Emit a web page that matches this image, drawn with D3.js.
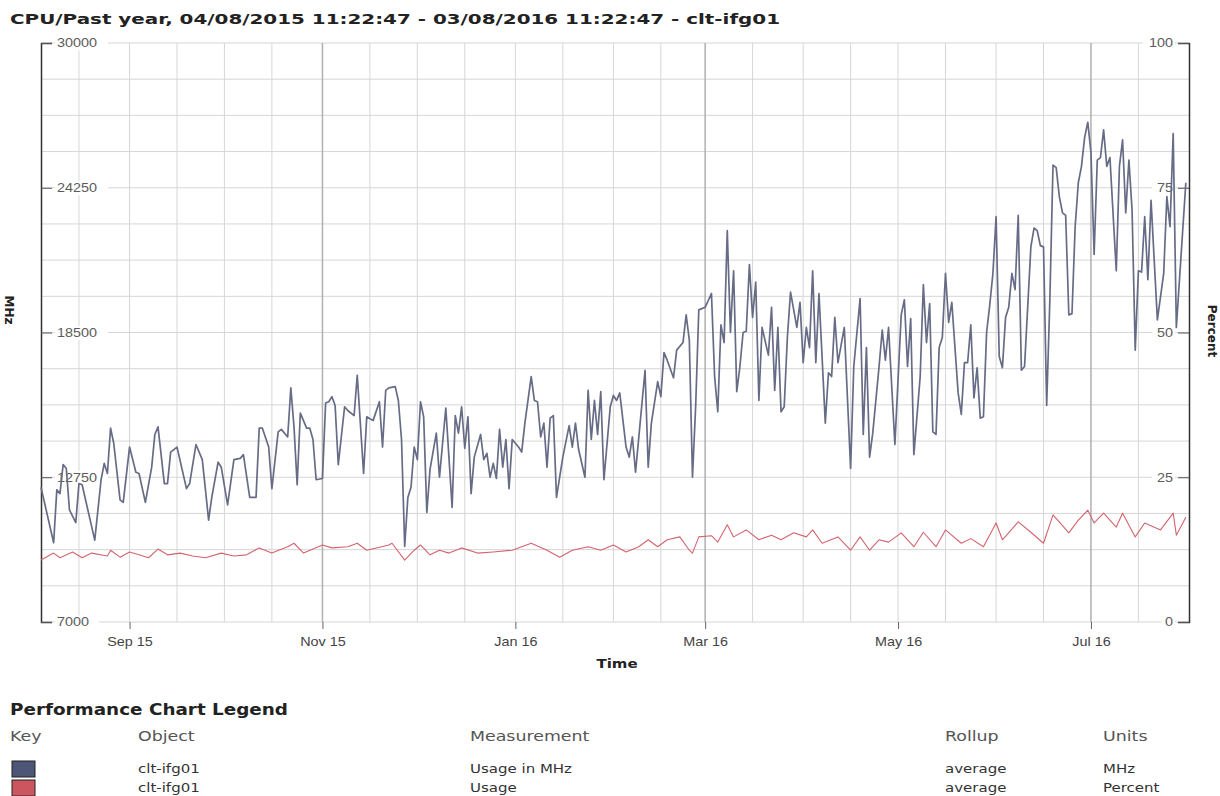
<!DOCTYPE html>
<html>
<head>
<meta charset="utf-8">
<script src="https://cdn.jsdelivr.net/npm/d3@7"></script>
<style>
  body { margin: 0; background: #fff; }
  svg { display: block; font-family: Verdana, "DejaVu Sans", sans-serif; }
</style>
</head>
<body>
<svg id="chart" width="1220" height="796"></svg>
<script>
// ---- data ----
var startDate = new Date(2015, 7, 4);   // 04/08/2015
var endDate = new Date(2016, 7, 1);

var monthTicks = [new Date(2015, 8, 1), new Date(2015, 10, 1), new Date(2016, 0, 1),
                  new Date(2016, 2, 1), new Date(2016, 4, 1), new Date(2016, 6, 1)];
var monthLabels = ["Sep 15", "Nov 15", "Jan 16", "Mar 16", "May 16", "Jul 16"];
var mhzTicks = [7000, 12750, 18500, 24250, 30000];
var pctTicks = [0, 25, 50, 75, 100];

// Usage in MHz: day offset from start, value
var mhzDays = [0,4,5,6,7,8,9,11,12,13,17,19,20,21,22,23,25,26,28,30,31,33,35,36,37,39,40,41,42,43,46,47,49,51,53,54,56,57,59,61,63,64,66,68,69,70,72,73,75,76,78,79,80,81,82,84,85,86,87,89,90,91,92,93,94,96,97,99,100,102,103,105,107,108,109,110,112,113,114,115,116,117,118,119,120,121,122,123,125,126,128,130,131,132,133,134,135,136,137,139,140,141,142,143,144,145,146,147,148,149,151,152,153,155,156,157,158,159,160,161,162,163,165,167,168,169,170,172,173,174,175,176,177,178,180,181,182,183,185,186,187,188,191,192,193,195,196,197,198,200,201,203,204,205,206,207,208,210,212,213,214,215,216,217,218,219,220,221,222,223,224,225,226,227,228,230,231,232,233,234,235,236,237,239,240,241,242,243,244,245,246,248,249,250,251,252,254,256,257,259,260,261,262,263,265,266,267,268,270,272,273,274,275,276,278,279,280,281,282,283,284,285,286,287,288,290,291,292,293,294,295,296,297,298,299,300,301,302,303,304,305,306,307,308,309,310,311,313,314,315,316,317,318,319,320,321,322,323,324,325,326,327,328,329,330,331,332,333,334,335,336,337,338,340,341,342,343,344,345,346,347,348,349,350,351,353,355,356,357,358,359,362];
var mhzValues = [12350,10150,12250,12100,13250,13100,11450,10950,12500,12450,10250,12650,13300,12900,14700,14100,11850,11750,13950,12950,12900,11750,13150,14450,14750,12500,12500,13750,13850,13950,12300,12500,14050,13450,11050,11950,13350,13150,11650,13450,13500,13650,11950,11950,14700,14700,13950,12300,14550,14650,14350,16300,14750,12450,15300,14700,14700,14250,12650,12700,15700,15750,15950,15600,13250,15550,15400,15200,16800,12900,15150,15000,15750,13950,16200,16300,16350,15800,14250,10000,11950,12350,13950,13450,15750,15150,11350,13050,14500,12750,15500,11550,15200,14500,15550,13900,15150,12100,13550,14450,13450,13700,12750,13300,12700,14650,13150,14250,12300,14250,13950,13750,14900,16750,15800,15750,14350,14900,13150,15100,15200,11950,13550,14800,13950,14900,13850,12750,16200,14250,15800,14450,16150,12650,15550,16000,15800,16100,13950,13550,14350,12950,17000,13150,14900,16550,15950,17700,17400,16700,17800,18100,19200,18200,12750,15550,19400,19500,20050,16750,15350,18800,18100,22550,18500,20950,16150,17150,18500,18550,21200,19100,20500,15800,18700,17600,19500,16200,18700,15350,15550,18300,20100,18700,19700,17300,18700,17900,20950,17300,20050,14900,16900,16750,19100,17300,18700,13100,17150,19850,14450,17900,13550,14500,17150,18600,17400,18700,14050,19200,19800,17150,19050,13650,16750,20400,18100,19650,14550,14450,17900,18300,20850,18900,19700,16100,15250,17300,17300,18800,15900,17100,15100,15150,18500,19600,20850,23100,17550,17100,19100,19500,20850,20200,23150,17000,17150,21900,22650,22550,21950,21900,15600,19800,25150,25050,23900,23250,23150,19200,19250,22700,24450,25100,26250,26850,25650,21600,25350,25450,26550,25100,25450,20950,25100,26150,23250,25350,23350,17800,20950,20900,23100,20600,23750,19000,20850,23900,22700,26400,18700,24450];

// Usage in Percent
var pctDays = [0,4,6,10,13,16,21,22,25,28,31,34,37,40,44,48,52,57,61,65,69,73,78,80,83,89,92,97,100,103,110,111,115,118,120,123,126,129,133,138,143,149,155,160,164,168,173,177,181,185,189,192,195,198,202,205,206,208,212,214,217,219,223,227,231,234,238,242,244,247,252,256,259,262,265,268,272,276,279,283,286,291,294,298,302,304,309,313,317,320,325,328,331,333,336,340,342,346,349,354,358,359,362];
var pctValues = [10.7,11.9,11.1,12.1,11.1,11.9,11.4,12.4,11.2,12.1,11.6,11.1,12.6,11.6,11.9,11.4,11.1,11.9,11.4,11.6,12.8,11.9,13.0,13.6,11.9,13.3,12.8,13.0,13.6,12.4,13.3,13.6,10.7,12.4,13.3,11.6,12.4,11.9,12.8,11.9,12.1,12.4,13.6,12.4,11.2,12.4,13.0,12.4,13.3,12.1,13.0,14.2,13.0,14.2,14.7,12.4,11.9,14.7,14.9,13.8,16.8,14.7,15.9,14.2,15.0,14.2,15.4,14.7,15.9,13.6,14.7,12.4,14.7,12.4,14.2,13.8,15.4,13.0,15.5,13.0,15.9,13.6,14.4,13.0,17.1,14.2,17.3,15.5,13.6,18.5,15.4,17.6,19.3,17.1,18.8,16.4,18.8,14.7,17.1,15.9,18.8,15.0,18.1];

var legendHeader = ["Key", "Object", "Measurement", "Rollup", "Units"];
var legendObjects = ["clt-ifg01", "clt-ifg01"];
var legendMeasures = ["Usage in MHz", "Usage"];
var legendRollups = ["average", "average"];
var legendUnits = ["MHz", "Percent"];
var legendColors = ["#4d5676", "#cc5660"];

// ---- layout ----
var plotLeft = 41, plotRight = 1189, plotTop = 43, plotBottom = 622;
var K = 1.2;   // horizontal stretch of the screenshot's text

var svg = d3.select("#chart");

var x = d3.scaleTime().domain([startDate, endDate]).range([plotLeft, plotRight]);
var yL = d3.scaleLinear().domain([7000, 30000]).range([plotBottom, plotTop]);
var yR = d3.scaleLinear().domain([0, 100]).range([plotBottom, plotTop]);

function stretch(sel) {
    sel.each(function() {
        var t = d3.select(this);
        var tx = +t.attr("x") || 0;
        t.attr("x", 0).attr("transform", "translate(" + tx + ",0) scale(" + K + ",1)");
    });
}

function label(txt, px, py, size, weight, fill, anchor) {
    return svg.append("text")
        .attr("transform", "translate(" + px + "," + py + ") scale(" + K + ",1)")
        .attr("font-size", size)
        .attr("font-weight", weight || "normal")
        .attr("fill", fill || "#333")
        .attr("text-anchor", anchor || "start")
        .text(txt);
}

// grid
var grid = svg.append("g");
var hLines = d3.range(17).map(function(i) { return 7000 + i * 1437.5; });
grid.selectAll(".h").data(hLines).enter().append("line")
    .attr("x1", plotLeft).attr("x2", plotRight)
    .attr("y1", function(d) { return yL(d); }).attr("y2", function(d) { return yL(d); })
    .attr("stroke", "#d6d6d6").attr("stroke-width", 1);

var vDates = d3.timeDay.range(startDate, endDate).filter(function(d) {
    return d.getDate() === 1 || d.getDate() === 16;
});
function isMajor(d) { return d.getDate() === 1 && d.getMonth() % 4 === 2; }
grid.selectAll(".v").data(vDates).enter().append("line")
    .attr("x1", function(d) { return x(d); }).attr("x2", function(d) { return x(d); })
    .attr("y1", plotTop).attr("y2", plotBottom)
    .attr("stroke", function(d) { return isMajor(d) ? "#b0b0b0" : "#d6d6d6"; })
    .attr("stroke-width", function(d) { return isMajor(d) ? 1.5 : 1; });

// x axis
var xAxis = svg.append("g")
    .attr("transform", "translate(0," + plotBottom + ")")
    .call(d3.axisBottom(x).tickValues(monthTicks)
        .tickFormat(function(d, i) { return monthLabels[i]; })
        .tickSize(7).tickPadding(8));
xAxis.select(".domain").remove();
xAxis.selectAll(".tick line").attr("stroke", "#666");
xAxis.selectAll("text").attr("font-size", 12).attr("fill", "#444").attr("font-family", null).call(stretch);

// left axis (labels inside the plot)
var lAxis = svg.append("g")
    .attr("transform", "translate(" + plotLeft + ",0)")
    .call(d3.axisRight(yL).tickValues(mhzTicks).tickFormat(d3.format("d")).tickSize(11).tickPadding(5));
lAxis.select(".domain").attr("stroke", "#333").attr("stroke-width", 1.5);
lAxis.selectAll(".tick line").attr("stroke", "#555");
lAxis.selectAll(".tick").insert("rect", "text")
    .attr("x", 14).attr("y", -7).attr("height", 14).attr("fill", "#fff")
    .attr("width", function(d) { return String(d).length * 9.4 + 6; });
lAxis.selectAll("text").attr("font-size", 12).attr("fill", "#5c5c5c").attr("font-family", null).call(stretch);

// right axis
var rAxis = svg.append("g")
    .attr("transform", "translate(" + plotRight + ",0)")
    .call(d3.axisLeft(yR).tickValues(pctTicks).tickSize(11).tickPadding(5));
rAxis.select(".domain").attr("stroke", "#333").attr("stroke-width", 1.5);
rAxis.selectAll(".tick line").attr("stroke", "#555");
rAxis.selectAll(".tick").insert("rect", "text")
    .attr("y", -7).attr("height", 14).attr("fill", "#fff")
    .attr("x", function(d) { return -14 - String(d).length * 9.4 - 4; })
    .attr("width", function(d) { return String(d).length * 9.4 + 4; });
rAxis.selectAll("text").attr("font-size", 12).attr("fill", "#5c5c5c").attr("font-family", null).call(stretch);

// lines
var mhzData = mhzDays.map(function(d, i) { return { date: d3.timeDay.offset(startDate, d), v: mhzValues[i] }; });
var pctData = pctDays.map(function(d, i) { return { date: d3.timeDay.offset(startDate, d), v: pctValues[i] }; });

svg.append("path")
    .datum(pctData)
    .attr("fill", "none")
    .attr("stroke", "#d3646e")
    .attr("stroke-width", 1.1)
    .attr("stroke-linejoin", "round")
    .attr("d", d3.line().x(function(d) { return x(d.date); }).y(function(d) { return yR(d.v); }));

svg.append("path")
    .datum(mhzData)
    .attr("fill", "none")
    .attr("stroke", "#666c85")
    .attr("stroke-width", 1.7)
    .attr("stroke-linejoin", "round")
    .attr("d", d3.line().x(function(d) { return x(d.date); }).y(function(d) { return yL(d.v); }));

// titles
svg.append("text")
    .attr("x", 10).attr("y", 24)
    .attr("font-size", 14).attr("font-weight", "bold").attr("fill", "#222")
    .attr("textLength", 770).attr("lengthAdjust", "spacingAndGlyphs")
    .text("CPU/Past year, 04/08/2015 11:22:47 - 03/08/2016 11:22:47 - clt-ifg01");

label("Time", 617, 668, 12.5, "bold", "#222", "middle");

svg.append("text")
    .attr("transform", "translate(5,310) rotate(90)")
    .attr("font-size", 12).attr("font-weight", "bold").attr("fill", "#222")
    .attr("text-anchor", "middle").text("MHz");
svg.append("text")
    .attr("transform", "translate(1208,331) rotate(90)")
    .attr("font-size", 12).attr("font-weight", "bold").attr("fill", "#222")
    .attr("text-anchor", "middle").text("Percent");

// legend
svg.append("text")
    .attr("x", 10).attr("y", 715)
    .attr("font-size", 15).attr("font-weight", "bold").attr("fill", "#222")
    .attr("textLength", 278).attr("lengthAdjust", "spacingAndGlyphs")
    .text("Performance Chart Legend");

var colX = [10, 138, 470, 945, 1103];
legendHeader.forEach(function(h, i) { label(h, colX[i], 741, 14.5, "normal", "#555"); });

legendObjects.forEach(function(o, i) {
    var ry = 773 + i * 19;
    svg.append("rect").attr("x", 12).attr("y", ry - 12).attr("width", 23).attr("height", 16)
        .attr("fill", legendColors[i]).attr("stroke", "#222").attr("stroke-width", 1);
    label(o, colX[1], ry, 12.5, "normal", "#333");
    label(legendMeasures[i], colX[2], ry, 12.5, "normal", "#333");
    label(legendRollups[i], colX[3], ry, 12.5, "normal", "#333");
    label(legendUnits[i], colX[4], ry, 12.5, "normal", "#333");
});
</script>
</body>
</html>
